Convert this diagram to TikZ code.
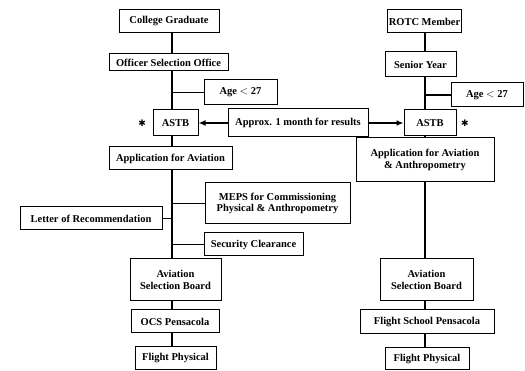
\documentclass[tikz,border=0pt]{standalone}
\usepackage{fontspec}
\setmainfont{Liberation Serif}
\newfontfamily\symfont{DejaVu Sans}
\usetikzlibrary{arrows.meta,positioning,calc}

\begin{document}
\begin{tikzpicture}[x=1pt,y=-1pt,font=\fontsize{10.5}{11.5}\selectfont\bfseries,
  line width=1.1pt,
  box/.style={draw,line width=1pt,inner sep=1pt,align=center,
              minimum height=23pt},
  mark star/.style={inner sep=0pt,font=\symfont\fontsize{9}{9}\selectfont},
  link/.style={line width=1.5pt},
  result/.style={link,-{Latex[length=7pt,width=6pt]}}]
  \useasboundingbox (0,0) rectangle (525,371);
  \coordinate (spL) at (172,0);
  \coordinate (spR) at (425,0);
  % left track
  \node[box,minimum width=100pt] (grad) at (169,21.5) {College Graduate};
  \node[box,minimum width=119pt,minimum height=17pt] (oso) at (168.5,62.5) {Officer Selection Office};
  \node[box,minimum width=73pt,minimum height=25pt] (ageL) at (240.5,92.5) {Age $<$ 27};
  \node[box,minimum width=45pt,minimum height=26pt] (astbL) at (175.5,123) {ASTB};
  \node[box,minimum width=140pt,minimum height=28pt] (wait) at (298,123) {Approx. 1 month for results};
  \node[box,minimum width=123pt] (appL) at (170.5,158.5) {Application for Aviation};
  \node[box,minimum width=145pt,minimum height=41pt] (meps) at (277.5,203.5) {MEPS for Commissioning\\Physical \& Anthropometry};
  \node[box,minimum width=142pt] (letter) at (91,218.5) {Letter of Recommendation};
  \node[box,minimum width=99pt] (sec) at (253.5,244.5) {Security Clearance};
  \node[box,minimum width=91pt,minimum height=42pt] (asbL) at (175.5,280) {Aviation\\Selection Board};
  \node[box,minimum width=88pt] (ocs) at (175,321.5) {OCS Pensacola};
  \node[box,minimum width=81pt] (fpL) at (175.5,358.5) {Flight Physical};
  \node[mark star,left=6pt of astbL] (starL) {✱};
  % right track
  \node[box,minimum width=73pt] (rotc) at (424.5,21.5) {ROTC Member};
  \node[box,minimum width=71pt,minimum height=25pt] (senior) at (420.5,64.5) {Senior Year};
  \node[box,minimum width=72pt,minimum height=24pt] (ageR) at (487,95) {Age $<$ 27};
  \node[box,minimum width=52pt,minimum height=26pt] (astbR) at (430,123) {ASTB};
  \node[box,minimum width=138pt,minimum height=44pt] (appR) at (425,160) {Application for Aviation\\\& Anthropometry};
  \node[box,minimum width=93pt,minimum height=42pt] (asbR) at (426.5,280) {Aviation\\Selection Board};
  \node[box,minimum width=134pt,minimum height=24pt] (fsp) at (427,322) {Flight School Pensacola};
  \node[box,minimum width=84pt,minimum height=22pt] (fpR) at (427,359) {Flight Physical};
  \node[mark star,right=4pt of astbR] (starR) {✱};
  % spines
  \foreach \a/\b in {grad/oso,oso/astbL,astbL/appL,appL/asbL,asbL/ocs,ocs/fpL}
    \draw[link] (\a.south -| spL) -- (\b.north -| spL);
  \foreach \a/\b in {rotc/senior,senior/astbR,astbR/appR,appR/asbR,asbR/fsp,fsp/fpR}
    \draw[link] (\a.south -| spR) -- (\b.north -| spR);
  % branches
  \foreach \n in {ageL,meps,sec}
    \draw[link] (\n.west) -- (\n.west -| spL);
  \draw[link] (letter.east) -- (letter.east -| spL);
  \draw[link] (ageR.west) -- (ageR.west -| spR);
  % results
  \draw[result] (wait) -- (astbL);
  \draw[result] (wait) -- (astbR);
\end{tikzpicture}
\end{document}
